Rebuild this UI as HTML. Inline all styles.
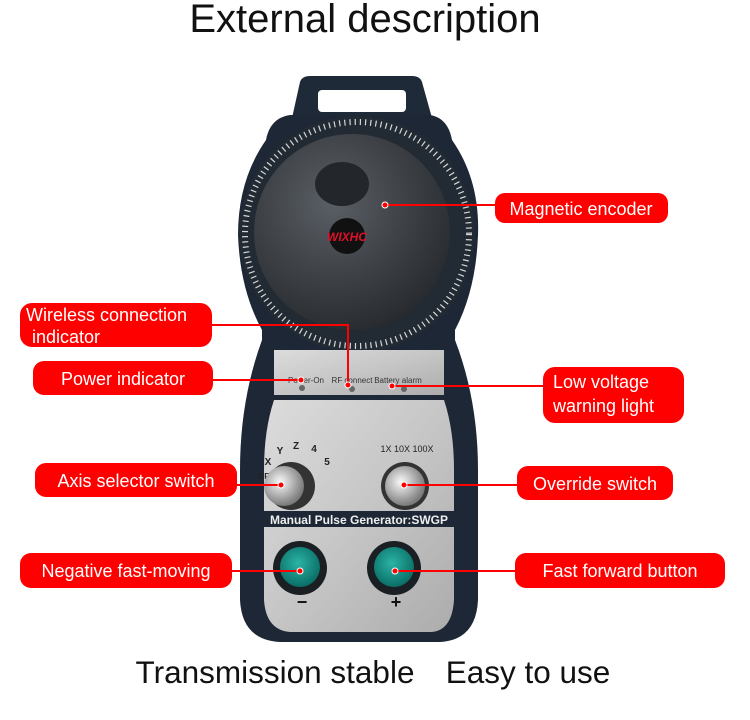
<!DOCTYPE html>
<html><head><meta charset="utf-8"><style>
html,body{margin:0;padding:0;background:#fff;width:750px;height:720px;overflow:hidden}
svg{display:block}
.t{font-family:"Liberation Sans",Arial,sans-serif}
</style></head><body>
<svg width="750" height="720" viewBox="0 0 750 720" xmlns="http://www.w3.org/2000/svg">
<defs>
<radialGradient id="dome" cx="0.4" cy="0.35" r="0.7"><stop offset="0" stop-color="#5a5f65"/><stop offset="1" stop-color="#26292d"/></radialGradient>
<linearGradient id="silver" x1="0" y1="0" x2="1" y2="1"><stop offset="0" stop-color="#dcdcdc"/><stop offset="0.5" stop-color="#c6c6c6"/><stop offset="1" stop-color="#acacac"/></linearGradient>
<radialGradient id="knob" cx="0.4" cy="0.4" r="0.6"><stop offset="0" stop-color="#fafafa"/><stop offset="1" stop-color="#7a7a7a"/></radialGradient>
<radialGradient id="teal" cx="0.45" cy="0.4" r="0.6"><stop offset="0" stop-color="#2bb3a5"/><stop offset="1" stop-color="#0a6e66"/></radialGradient>
</defs>
<text class="t" x="365" y="32" font-size="40" text-anchor="middle" fill="#111">External description</text>
<!-- handle -->
<path d="M292 118 L300 82 Q302 76 310 76 L412 76 Q420 76 422 82 L432 118 Z" fill="#1f2a38"/>
<rect x="318" y="90" width="88" height="22" rx="4" fill="#fff"/>
<!-- body -->
<path d="M290 115 L430 115 Q448 118 452 140 Q480 180 478 235 Q476 290 455 330 L455 340 Q478 400 478 470 L478 600 Q476 640 440 642 L280 642 Q242 640 240 600 L240 470 Q240 400 262 340 L262 330 Q240 290 238 235 Q238 180 266 140 Q270 118 290 115 Z" fill="#1d2735"/>
<!-- scale ring -->
<circle cx="357" cy="234" r="118" fill="#222a33"/>
<circle cx="357" cy="234" r="112" fill="none" stroke="#d8d8d8" stroke-width="6" stroke-dasharray="1.2 4"/>
<circle cx="352" cy="232" r="98" fill="url(#dome)"/>
<ellipse cx="342" cy="184" rx="27" ry="22" fill="#23272c"/>
<circle cx="347" cy="236" r="18" fill="#111"/>
<text class="t" x="347" y="241" font-size="12" font-weight="bold" font-style="italic" text-anchor="middle" fill="#e0102a">WIXHC</text>
<!-- upper silver panel -->
<path d="M274 350 L444 350 L444 395 L274 395 Z" fill="url(#silver)"/>
<text class="t" x="306" y="383" font-size="8" text-anchor="middle" fill="#333">Power-On</text>
<text class="t" x="352" y="383" font-size="8" text-anchor="middle" fill="#333">RF connect</text>
<text class="t" x="398" y="383" font-size="8" text-anchor="middle" fill="#333">Battery alarm</text>
<circle cx="302" cy="388" r="3" fill="#666"/><circle cx="352" cy="389" r="3" fill="#666"/><circle cx="404" cy="389" r="3" fill="#666"/>
<!-- lower silver panel -->
<path d="M274 400 L444 400 Q454 430 454 470 L454 600 Q452 630 432 632 L290 632 Q266 630 264 600 L264 470 Q264 430 274 400 Z" fill="url(#silver)"/>
<rect x="262" y="511" width="194" height="16" fill="#1d2735"/>
<text class="t" x="359" y="524" font-size="12" font-weight="bold" text-anchor="middle" fill="#eee">Manual Pulse Generator:SWGP</text>
<g class="t" font-size="10" font-weight="bold" fill="#222" text-anchor="middle">
<text x="266" y="479" font-size="8">OFF</text><text x="268" y="465">X</text><text x="280" y="454">Y</text><text x="296" y="449">Z</text><text x="314" y="452">4</text><text x="327" y="465">5</text>
</g>
<text class="t" x="407" y="452" font-size="9" fill="#222" text-anchor="middle">1X 10X 100X</text>
<circle cx="291" cy="486" r="24" fill="#333"/><circle cx="284" cy="486" r="20" fill="url(#knob)"/>
<circle cx="405" cy="486" r="24" fill="#333"/><circle cx="405" cy="486" r="20" fill="url(#knob)"/>
<circle cx="300" cy="568" r="27" fill="#1a1f24"/><circle cx="300" cy="567" r="20" fill="url(#teal)"/>
<circle cx="394" cy="568" r="27" fill="#1a1f24"/><circle cx="394" cy="567" r="20" fill="url(#teal)"/>
<text class="t" x="302" y="608" font-size="18" font-weight="bold" text-anchor="middle" fill="#111">−</text>
<text class="t" x="396" y="608" font-size="18" font-weight="bold" text-anchor="middle" fill="#111">+</text>
<!-- connectors -->
<g stroke="#f00" stroke-width="2" fill="none">
<path d="M385 205 H495"/><path d="M212 325 H348 V382"/><path d="M213 380 H301"/>
<path d="M392 386 H543"/><path d="M237 485 H281"/><path d="M404 485 H517"/>
<path d="M232 571 H300"/><path d="M395 571 H515"/>
</g>
<g fill="#f00" stroke="#fff" stroke-width="1">
<circle cx="385" cy="205" r="3"/><circle cx="348" cy="385" r="3"/><circle cx="301" cy="380" r="3"/><circle cx="392" cy="386" r="3"/><circle cx="281" cy="485" r="3"/><circle cx="404" cy="485" r="3"/><circle cx="300" cy="571" r="3"/><circle cx="395" cy="571" r="3"/>
</g>
<!-- labels -->
<g fill="#f00">
<rect x="495" y="193" width="173" height="30" rx="10"/>
<rect x="20" y="303" width="192" height="44" rx="12"/>
<rect x="33" y="361" width="180" height="34" rx="11"/>
<rect x="543" y="367" width="141" height="56" rx="12"/>
<rect x="35" y="463" width="202" height="34" rx="11"/>
<rect x="517" y="466" width="156" height="34" rx="11"/>
<rect x="20" y="553" width="212" height="35" rx="11"/>
<rect x="515" y="553" width="210" height="35" rx="11"/>
</g>
<g class="t" fill="#fff" font-size="18">
<text x="581" y="215" text-anchor="middle">Magnetic encoder</text>
<text x="26" y="321">Wireless connection</text>
<text x="32" y="343">indicator</text>
<text x="123" y="385" text-anchor="middle">Power indicator</text>
<text x="553" y="388">Low voltage</text>
<text x="553" y="412">warning light</text>
<text x="136" y="487" text-anchor="middle">Axis selector switch</text>
<text x="595" y="490" text-anchor="middle">Override switch</text>
<text x="126" y="577" text-anchor="middle">Negative fast-moving</text>
<text x="620" y="577" text-anchor="middle">Fast forward button</text>
</g>
<text class="t" x="275" y="683" font-size="31.5" text-anchor="middle" fill="#111">Transmission stable</text>
<text class="t" x="528" y="683" font-size="31.5" text-anchor="middle" fill="#111">Easy to use</text>
</svg>
</body></html>
